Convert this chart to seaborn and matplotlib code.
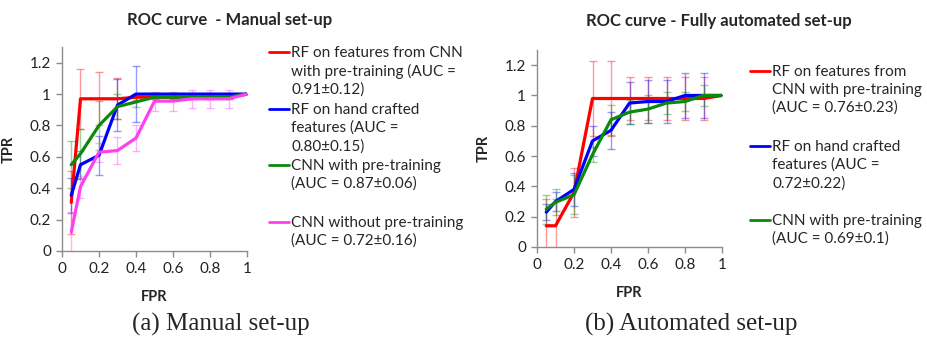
import numpy as np
import pandas as pd
import matplotlib
matplotlib.use("Agg")
import matplotlib.pyplot as plt
import seaborn as sns
from matplotlib.lines import Line2D

# ==============================
# Data
# ==============================
fpr = [0.05, 0.1, 0.2, 0.3, 0.4, 0.5, 0.6, 0.7, 0.8, 0.9, 1.0]

# (a) manual set-up
man_rf_cnn = [0.31, 0.97, 0.97, 0.97, 0.98, 0.98, 0.98, 0.98, 0.98, 0.98, 1.0]
man_rf_cnn_err = [0.20, 0.19, 0.17, 0.13, 0.02, 0.01, 0.01, 0.01, 0.01, 0.01, 0.0]
man_rf_hand = [0.355, 0.55, 0.61, 0.93, 1.0, 1.0, 1.0, 1.0, 1.0, 1.0, 1.0]
man_rf_hand_err = [0.11, 0.09, 0.125, 0.165, 0.18, 0.01, 0.01, 0.01, 0.01, 0.01, 0.0]
man_cnn_pre = [0.55, 0.62, 0.80, 0.92, 0.95, 0.98, 0.98, 0.98, 0.98, 0.98, 1.0]
man_cnn_pre_err = [0.15, 0.155, 0.155, 0.08, 0.03, 0.01, 0.01, 0.01, 0.01, 0.01, 0.0]
man_cnn_nopre = [0.12, 0.41, 0.63, 0.64, 0.72, 0.955, 0.955, 0.97, 0.97, 0.97, 1.0]
man_cnn_nopre_err = [0.13, 0.07, 0.06, 0.085, 0.085, 0.06, 0.06, 0.057, 0.057, 0.057, 0.0]

# (b) fully automated set-up
auto_rf_cnn = [0.14, 0.14, 0.36, 0.98, 0.98, 0.98, 0.98, 0.98, 0.98, 0.98, 1.0]
auto_rf_cnn_err = [0.18, 0.18, 0.16, 0.25, 0.25, 0.145, 0.145, 0.145, 0.145, 0.145, 0.0]
auto_rf_hand = [0.23, 0.30, 0.38, 0.70, 0.77, 0.95, 0.96, 0.96, 1.0, 1.0, 1.0]
auto_rf_hand_err = [0.055, 0.06, 0.11, 0.10, 0.12, 0.14, 0.14, 0.14, 0.15, 0.15, 0.0]
auto_cnn_pre = [0.25, 0.295, 0.345, 0.61, 0.84, 0.89, 0.91, 0.95, 0.96, 1.0, 1.0]
auto_cnn_pre_err = [0.095, 0.085, 0.13, 0.05, 0.10, 0.08, 0.09, 0.07, 0.065, 0.07, 0.0]

man_labels = [
    ["RF on features from CNN", "with pre-training (AUC =", "0.91\u00b10.12)"],
    ["RF on hand crafted", "features (AUC =", "0.80\u00b10.15)"],
    ["CNN with pre-training", "(AUC = 0.87\u00b10.06)"],
    ["CNN without pre-training", "(AUC = 0.72\u00b10.16)"],
]
auto_labels = [
    ["RF on features from", "CNN with pre-training", "(AUC = 0.76\u00b10.23)"],
    ["RF on hand crafted", "features (AUC =", "0.72\u00b10.22)"],
    ["CNN with pre-training", "(AUC = 0.69\u00b10.1)"],
]

titles = ["ROC curve  - Manual set-up", "ROC curve - Fully automated set-up"]
captions = ["(a) Manual set-up", "(b) Automated set-up"]

red, blue, green, magenta = "#ff0000", "#0000ff", "#0a8a0a", "#ff40f0"

# ==============================
# Style
# ==============================
sns.set_theme(style="white")
plt.rcParams["font.family"] = ["Lato", "DejaVu Sans"]

W, H = 928, 341
fig = plt.figure(figsize=(W / 100, H / 100), dpi=100)


def px_axes(x0, y0, x1, y1):
    # pixel box (top-left origin) -> figure axes
    return fig.add_axes([x0 / W, 1 - y1 / H, (x1 - x0) / W, (y1 - y0) / H])


def draw_panel(ax, series):
    for y, err, color in series:
        ax.errorbar(fpr, y, yerr=err, fmt="none", ecolor=color, alpha=0.4,
                    elinewidth=1, capsize=3, capthick=1)
    for y, err, color in series:
        sns.lineplot(x=fpr, y=y, color=color, linewidth=2.3, ax=ax)
    ax.set_xlim(0, 1)
    ax.set_ylim(0, 1.3)
    ax.set_xticks([0, 0.2, 0.4, 0.6, 0.8, 1])
    ax.set_xticklabels(["0", "0.2", "0.4", "0.6", "0.8", "1"])
    ax.set_yticks([0, 0.2, 0.4, 0.6, 0.8, 1, 1.2])
    ax.set_yticklabels(["0", "0.2", "0.4", "0.6", "0.8", "1", "1.2"])
    sns.despine(ax=ax)
    for s in ["left", "bottom"]:
        ax.spines[s].set_color("#8c8c8c")
        ax.spines[s].set_linewidth(1)
    ax.tick_params(axis="both", direction="out", length=4, width=1,
                   color="#8c8c8c", labelsize=11, labelcolor="#222222", pad=4)
    ax.tick_params(axis="x", bottom=True)
    ax.tick_params(axis="y", left=True)
    ax.set_xlabel("FPR", fontweight="bold", fontsize=10.5, labelpad=10)
    ax.set_ylabel("TPR", fontweight="bold", fontsize=10.5, labelpad=10)


def block_legend(color, lines, x_px, y_px):
    handles = [Line2D([], [], color=color, lw=2)]
    handles += [Line2D([], [], color="none")] * (len(lines) - 1)
    leg = fig.legend(handles, lines, loc="upper left",
                     bbox_to_anchor=(x_px / W, 1 - y_px / H),
                     frameon=False, fontsize=11, borderpad=0, borderaxespad=0,
                     handlelength=1.3, handletextpad=0.15, labelspacing=0.25)
    return leg


ax1 = px_axes(62, 47, 247, 251)
draw_panel(ax1, [(man_rf_cnn, man_rf_cnn_err, red),
                 (man_rf_hand, man_rf_hand_err, blue),
                 (man_cnn_pre, man_cnn_pre_err, green),
                 (man_cnn_nopre, man_cnn_nopre_err, magenta)])

ax2 = px_axes(537, 50, 722, 247)
draw_panel(ax2, [(auto_rf_cnn, auto_rf_cnn_err, red),
                 (auto_rf_hand, auto_rf_hand_err, blue),
                 (auto_cnn_pre, auto_cnn_pre_err, green)])

for lines, color, ytop in zip(man_labels, [red, blue, green, magenta], [46, 103, 159, 216]):
    block_legend(color, lines, 269, ytop)
for lines, color, ytop in zip(auto_labels, [red, blue, green], [65, 140, 214]):
    block_legend(color, lines, 750, ytop)

fig.text(230 / W, 1 - 20 / H, titles[0], ha="center", va="center",
         fontweight="bold", fontsize=12)
fig.text(719 / W, 1 - 21 / H, titles[1], ha="center", va="center",
         fontweight="bold", fontsize=12)

fig.text(221 / W, 1 - 324 / H, captions[0], ha="center", va="center",
         family=["Liberation Serif", "DejaVu Serif"], fontsize=18)
fig.text(691 / W, 1 - 324 / H, captions[1], ha="center", va="center",
         family=["Liberation Serif", "DejaVu Serif"], fontsize=18)

fig.savefig("out.png", dpi=100)
